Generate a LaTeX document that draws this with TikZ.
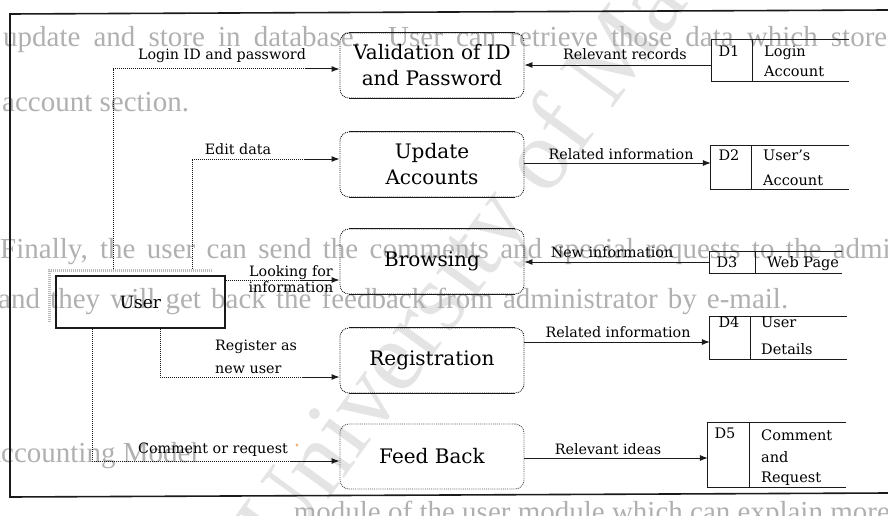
\documentclass[tikz,border=0pt]{standalone}
\usepackage{fontspec}
\setmainfont{DejaVu Serif}
\newfontfamily\pagefont{Liberation Serif}
\usetikzlibrary{arrows.meta}
\definecolor{ink}{HTML}{1A1A1A}
\definecolor{pagetext}{HTML}{B0B0B0}
\definecolor{markgray}{HTML}{E4E4E4}
\definecolor{speck}{HTML}{F2B27A}

\begin{document}
\begin{tikzpicture}[x=1pt,y=-1pt,
  dfdprocess/.style={draw=ink, densely dotted, line width=0.9pt, rounded corners=9pt,
    minimum width=184pt, minimum height=65pt, inner sep=0pt, align=center,
    font=\fontsize{20}{26}\selectfont},
  boxrule/.style={draw=ink, line width=1.2pt},
  entity/.style={draw=ink, line width=1.2pt, minimum width=169pt, minimum height=52pt,
    inner sep=0pt, font=\fontsize{17}{20}\selectfont},
  dfdstore/.style={minimum width=137pt, inner sep=0pt},
  storeline/.style={draw=ink, line width=0.9pt},
  storetext/.style={anchor=base west, inner sep=0pt, font=\fontsize{14.5}{17}\selectfont},
  storeid/.style={storetext, anchor=base},
  flowlabel/.style={anchor=base, inner sep=0pt, font=\fontsize{14.3}{17}\selectfont},
  userflow/.style={draw=ink, densely dotted, line width=1pt},
  userhead/.style={draw=ink, line width=1pt, -{Latex[length=8pt,width=6pt]}},
  dataflow/.style={draw=ink, line width=0.8pt, -{Latex[length=8pt,width=6pt]}},
  pageline/.style={anchor=base west, inner sep=0pt, text=pagetext,
    font=\pagefont\fontsize{29}{33}\selectfont},
  frame/.style={draw=ink, line width=1.6pt},
  shadowdots/.style={draw=gray!55, line width=3pt, dash pattern=on 0.8pt off 1.2pt},
]
\useasboundingbox (0,0) rectangle (888,516);

% printed page behind the diagram
\begin{scope}
  \clip (0,0) rectangle (888,516);
  \node[rotate=54, text=markgray, anchor=base west, inner sep=0pt,
        font=\pagefont\fontsize{100}{100}\selectfont] (mark) at (285,560) {University of Malaya};
  \node[pageline] (p1) at (3,47) {\makebox[884pt][s]{update and store in database. User can retrieve those data which store}};
  \node[pageline] (p2) at (2,112) {account section.};
  \node[pageline] (p3) at (0,258) {\makebox[905pt][s]{Finally, the user can send the comments and special requests to the admin}};
  \node[pageline] (p4) at (-2,308) {\makebox[790pt][s]{and they will get back the feedback from administrator by e-mail.}};
  \node[pageline] (p5) at (-20,462) {Accounting Model};
  \node[pageline, anchor=base east] (p6) at (890,521) {module of the user module which can explain more};
\end{scope}

% figure frame
\draw[frame] (888,10) -- (10,14) -- (10,497) -- (888,493);

% processes
\node[dfdprocess] (val) at (432,65.5)  {Validation of ID\\and Password};
\node[dfdprocess] (upd) at (432,164.5) {Update\\Accounts};
\node[dfdprocess] (brw) at (432,261.5) {Browsing};
\node[dfdprocess] (reg) at (432,360.5) {Registration};
\node[dfdprocess, draw=ink!75] (fb) at (432,456.5) {Feed Back};
\foreach \p in {val,upd,brw,reg}{
  \draw[boxrule] ([xshift=9pt]\p.north west) -- ([xshift=-9pt]\p.north east);
  \draw[boxrule] ([xshift=9pt]\p.south west) -- ([xshift=-9pt]\p.south east);
}

% external entity
\draw[shadowdots] (49,322) -- (49,270) -- (212,270);
\node[entity] (user) at (140.5,302) {User};

% data stores
\node[dfdstore, minimum height=41pt] (d1) at (780.5,60.5) {};
\node[dfdstore, minimum width=138pt, minimum height=43pt] (d2) at (780,167.5) {};
\node[dfdstore, minimum width=132pt, minimum height=21pt] (d3) at (776,262.5) {};
\node[dfdstore, minimum height=42pt] (d4) at (778.5,338) {};
\node[dfdstore, minimum width=138pt, minimum height=64pt] (d5) at (777,455) {};
\foreach \s/\w in {d1/41,d2/41,d3/46,d4/41,d5/42}{
  \draw[storeline] (\s.north east) -- (\s.north west) -- (\s.south west) -- (\s.south east);
  \draw[storeline] ([xshift=\w pt]\s.north west) -- ([xshift=\w pt]\s.south west);
}
\node[storeid]   (d1id) at (729,57)  {D1};
\node[storetext] (d1a)  at (764,57)  {Login};
\node[storetext] (d1b)  at (764,77)  {Account};
\node[storeid]   (d2id) at (729,160) {D2};
\node[storetext] (d2a)  at (763,160) {User’s};
\node[storetext] (d2b)  at (763,185) {Account};
\node[storeid]   (d3id) at (727,267) {D3};
\node[storetext] (d3a)  at (767,267) {Web Page};
\node[storeid]   (d4id) at (729,327) {D4};
\node[storetext] (d4a)  at (761,327) {User};
\node[storetext] (d4b)  at (761,354) {Details};
\node[storeid]   (d5id) at (725,438) {D5};
\node[storetext] (d5a)  at (761,440) {Comment};
\node[storetext] (d5b)  at (761,462) {and};
\node[storetext] (d5c)  at (761,482) {Request};

% flows leaving the user
\coordinate (utop) at ([yshift=6pt]user.north);
\coordinate (lgk) at (113,69);
\coordinate (lge) at (val.west |- lgk);
\draw[userflow] (utop -| lgk) -- (lgk) -- ([xshift=-35pt]lge);
\draw[userhead] ([xshift=-35pt]lge) -- (lge);

\coordinate (edk) at (192,159);
\coordinate (ede) at (upd.west |- edk);
\draw[userflow] (utop -| edk) -- (edk) -- ([xshift=-35pt]ede);
\draw[userhead] ([xshift=-35pt]ede) -- (ede);

\coordinate (lkk) at (230,280);
\coordinate (lke) at (brw.west |- lkk);
\draw[userflow] (user.east |- lkk) -- ([xshift=-40pt]lke);
\draw[userhead] ([xshift=-40pt]lke) -- (lke);

\coordinate (rgk) at (160,377);
\coordinate (rge) at (reg.west |- rgk);
\draw[userflow] (user.south -| rgk) -- (rgk) -- ([xshift=-38pt]rge);
\draw[userhead] ([xshift=-38pt]rge) -- (rge);

\coordinate (cmk) at (92,461);
\coordinate (cme) at (fb.west |- cmk);
\draw[userflow] (user.south -| cmk) -- (cmk) -- ([xshift=-50pt]cme);
\draw[userhead] ([xshift=-50pt]cme) -- (cme);

% flows between processes and stores
\coordinate (rr1) at (600,65);
\draw[dataflow] (d1.west |- rr1) -- (val.east |- rr1);
\coordinate (rr2) at (600,163);
\draw[dataflow] (upd.east |- rr2) -- (d2.west |- rr2);
\coordinate (rr3) at (600,262);
\draw[dataflow] (d3.west |- rr3) -- (brw.east |- rr3);
\coordinate (rr4) at (600,342);
\draw[dataflow] (reg.east |- rr4) -- (d4.west |- rr4);
\coordinate (rr5) at (600,458);
\draw[dataflow] (fb.east |- rr5) -- (d5.west |- rr5);

% flow labels
\node[flowlabel] (lgl) at (222,60)  {Login ID and password};
\node[flowlabel] (rrl) at (625,60)  {Relevant records};
\node[flowlabel] (edl) at (238,154) {Edit data};
\node[flowlabel] (ril) at (621,159) {Related information};
\node[flowlabel] (nil) at (612,257) {New information};
\node[flowlabel] (lkl) at (291,276) {Looking for};
\node[flowlabel] (lkm) at (291,292) {information};
\node[flowlabel, anchor=base west] (rgl) at (215,350) {Register as};
\node[flowlabel, anchor=base west] (rgm) at (215,373) {new user};
\node[flowlabel] (r4l) at (618,337) {Related information};
\node[flowlabel] (cml) at (213,453) {Comment or request};
\node[flowlabel] (ril5) at (608,454) {Relevant ideas};
\fill[speck] (297,445) circle (1.6);
\end{tikzpicture}
\end{document}
